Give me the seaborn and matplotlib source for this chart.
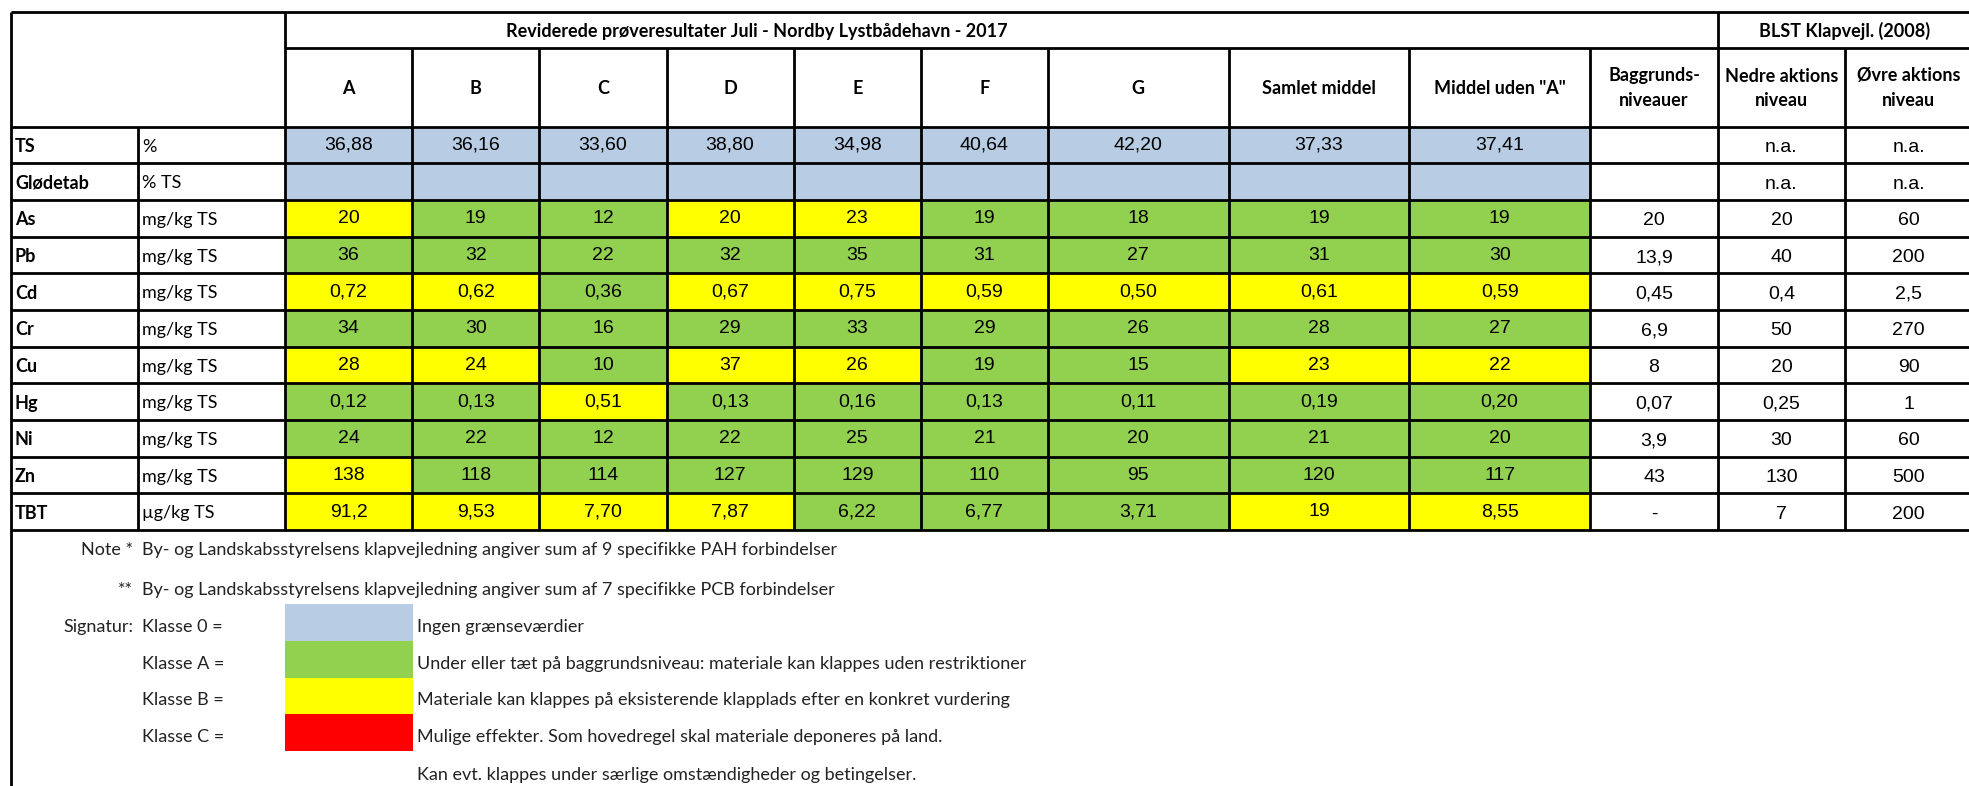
import numpy as np
import pandas as pd
import matplotlib
matplotlib.use('Agg')
import matplotlib.pyplot as plt
import seaborn as sns
from matplotlib.colors import ListedColormap

stations = ['A', 'B', 'C', 'D', 'E', 'F', 'G', 'Samlet middel', 'Middel uden "A"']
params = ['TS', 'Glødetab', 'As', 'Pb', 'Cd', 'Cr', 'Cu', 'Hg', 'Ni', 'Zn', 'TBT']
units = ['%', '% TS', 'mg/kg TS', 'mg/kg TS', 'mg/kg TS', 'mg/kg TS', 'mg/kg TS',
         'mg/kg TS', 'mg/kg TS', 'mg/kg TS', 'µg/kg TS']

st_A = ['36,88', '', '20', '36', '0,72', '34', '28', '0,12', '24', '138', '91,2']
st_B = ['36,16', '', '19', '32', '0,62', '30', '24', '0,13', '22', '118', '9,53']
st_C = ['33,60', '', '12', '22', '0,36', '16', '10', '0,51', '12', '114', '7,70']
st_D = ['38,80', '', '20', '32', '0,67', '29', '37', '0,13', '22', '127', '7,87']
st_E = ['34,98', '', '23', '35', '0,75', '33', '26', '0,16', '25', '129', '6,22']
st_F = ['40,64', '', '19', '31', '0,59', '29', '19', '0,13', '21', '110', '6,77']
st_G = ['42,20', '', '18', '27', '0,50', '26', '15', '0,11', '20', '95', '3,71']
samlet = ['37,33', '', '19', '31', '0,61', '28', '23', '0,19', '21', '120', '19']
uden_a = ['37,41', '', '19', '30', '0,59', '27', '22', '0,20', '20', '117', '8,55']

baggrund = ['', '', '20', '13,9', '0,45', '6,9', '8', '0,07', '3,9', '43', '-']
nedre = ['n.a.', 'n.a.', '20', '40', '0,4', '50', '20', '0,25', '30', '130', '7']
ovre = ['n.a.', 'n.a.', '60', '200', '2,5', '270', '90', '1', '60', '500', '200']

klasse_navne = ['Klasse 0 =', 'Klasse A =', 'Klasse B =', 'Klasse C =']
klasse_tekst = ['Ingen grænseværdier',
                'Under eller tæt på baggrundsniveau: materiale kan klappes uden restriktioner',
                'Materiale kan klappes på eksisterende klapplads efter en konkret vurdering',
                'Mulige effekter. Som hovedregel skal materiale deponeres på land.']
klasse_farver = ['#B8CCE4', '#92D050', '#FFFF00', '#FF0000']


def tal(s):
    return float(s.replace(',', '.'))


# klasse: 0 = ingen grænse, 1 = under nedre, 2 = over nedre, 3 = over øvre
tabel = pd.DataFrame(dict(zip(stations, [st_A, st_B, st_C, st_D, st_E, st_F, st_G, samlet, uden_a])),
                     index=params)
klasse = pd.DataFrame(0, index=params, columns=stations)
for p, n, o in zip(params, nedre, ovre):
    if n == 'n.a.':
        continue
    for s in stations:
        v = tal(tabel.loc[p, s])
        klasse.loc[p, s] = 3 if v >= tal(o) else (2 if v >= tal(n) else 1)

W, H = 1969, 786
fig = plt.figure(figsize=(W / 100, H / 100), dpi=100, facecolor='white')
cmap = ListedColormap(klasse_farver)
calibri = ['Lato', 'DejaVu Sans']
arial = ['Liberation Sans', 'DejaVu Sans']
num_kw = dict(fontsize=14, family=arial, color='black')

row_edges = np.linspace(126.7, 530, len(params) + 1)
row_mid = (row_edges[:-1] + row_edges[1:]) / 2
edges_a = np.linspace(285, 1048, 7)
edges_b = np.linspace(1048, 1590, 4)


def px_axes(x0, x1, y0, y1, z=1):
    return fig.add_axes([x0 / W, 1 - y1 / H, (x1 - x0) / W, (y1 - y0) / H], zorder=z)


# farvede celler
ax_a = px_axes(285, 1048, row_edges[0], row_edges[-1])
sns.heatmap(klasse.iloc[:, :6], ax=ax_a, cmap=cmap, vmin=-0.5, vmax=3.5, cbar=False,
            annot=tabel.iloc[:, :6].values, fmt='', annot_kws=num_kw,
            xticklabels=False, yticklabels=False)
ax_b = px_axes(1048, 1590, row_edges[0], row_edges[-1])
sns.heatmap(klasse.iloc[:, 6:], ax=ax_b, cmap=cmap, vmin=-0.5, vmax=3.5, cbar=False,
            annot=tabel.iloc[:, 6:].values, fmt='', annot_kws=num_kw,
            xticklabels=False, yticklabels=False)
for a in [ax_a, ax_b]:
    a.set_axis_off()

# signatur
ax_s = px_axes(285, 412.5, 604, 751)
sns.heatmap(pd.DataFrame({'k': [0, 1, 2, 3]}), ax=ax_s, cmap=cmap, vmin=-0.5, vmax=3.5, cbar=False,
            xticklabels=False, yticklabels=False)
ax_s.set_axis_off()

# overlay til tekst og linjer
ax = px_axes(0, W, 0, H, z=5)
ax.set_xlim(0, W)
ax.set_ylim(H, 0)
ax.set_facecolor('none')
ax.set_axis_off()

lw = 2.0
x_left, x_right = 10.5, 1972
ax.hlines([11.7], x_left, x_right, color='black', lw=lw)
ax.hlines([48.3], 285, x_right, color='black', lw=lw)
ax.hlines(row_edges, x_left, x_right, color='black', lw=lw)
ax.vlines([x_left], 11.7, H, color='black', lw=lw)
ax.vlines([137.5], row_edges[0], row_edges[-1], color='black', lw=lw)
ax.vlines([285, 1718, x_right], 11.7, row_edges[-1], color='black', lw=lw)
inner = list(edges_a[1:]) + list(edges_b[1:]) + [1845]
ax.vlines(inner, 48.3, row_edges[-1], color='black', lw=lw)

# overskrifter
ax.text(757, 31, 'Reviderede prøveresultater Juli - Nordby Lystbådehavn - 2017', ha='center', va='center',
        fontsize=13, weight='bold', family=calibri)
ax.text(1845, 31, 'BLST Klapvejl. (2008)', ha='center', va='center', fontsize=13, weight='bold',
        family=calibri)
col_mid = list((edges_a[:-1] + edges_a[1:]) / 2) + list((edges_b[:-1] + edges_b[1:]) / 2)
for x, s in zip(col_mid, stations):
    ax.text(x, 88, s, ha='center', va='center', fontsize=13, weight='bold', family=calibri)
ref_mid = [1654, 1781.5, 1908.5]
ref_head = ['Baggrunds-\nniveauer', 'Nedre aktions\nniveau', 'Øvre aktions\nniveau']
for x, s in zip(ref_mid, ref_head):
    ax.text(x, 88, s, ha='center', va='center', fontsize=13, weight='bold', family=calibri,
            linespacing=1.5)

# rækker
for y, p, u in zip(row_mid, params, units):
    ax.text(15, y + 1.5, p, ha='left', va='center', fontsize=13, weight='bold', family=calibri)
    ax.text(142, y + 1.5, u, ha='left', va='center', fontsize=13, family=calibri)
for x, col in zip(ref_mid, [baggrund, nedre, ovre]):
    for y, s in zip(row_mid, col):
        ax.text(x, y + 2.5, s, ha='center', va='center', **num_kw)

# noter
note_kw = dict(va='center', fontsize=13, family=calibri, color='#222222')
ax.text(133, 550, 'Note *', ha='right', **note_kw)
ax.text(142, 550, 'By- og Landskabsstyrelsens klapvejledning angiver sum af 9 specifikke PAH forbindelser',
        ha='left', **note_kw)
ax.text(133, 590, '**', ha='right', **note_kw)
ax.text(142, 590, 'By- og Landskabsstyrelsens klapvejledning angiver sum af 7 specifikke PCB forbindelser',
        ha='left', **note_kw)
ax.text(133, 627, 'Signatur:', ha='right', **note_kw)
for i, (k, t) in enumerate(zip(klasse_navne, klasse_tekst)):
    y = 627 + i * 36.7
    ax.text(142, y, k, ha='left', **note_kw)
    ax.text(417, y, t, ha='left', **note_kw)
ax.text(417, 775, 'Kan evt. klappes under særlige omstændigheder og betingelser.', ha='left', **note_kw)

fig.savefig('out.png', dpi=100, facecolor='white')
